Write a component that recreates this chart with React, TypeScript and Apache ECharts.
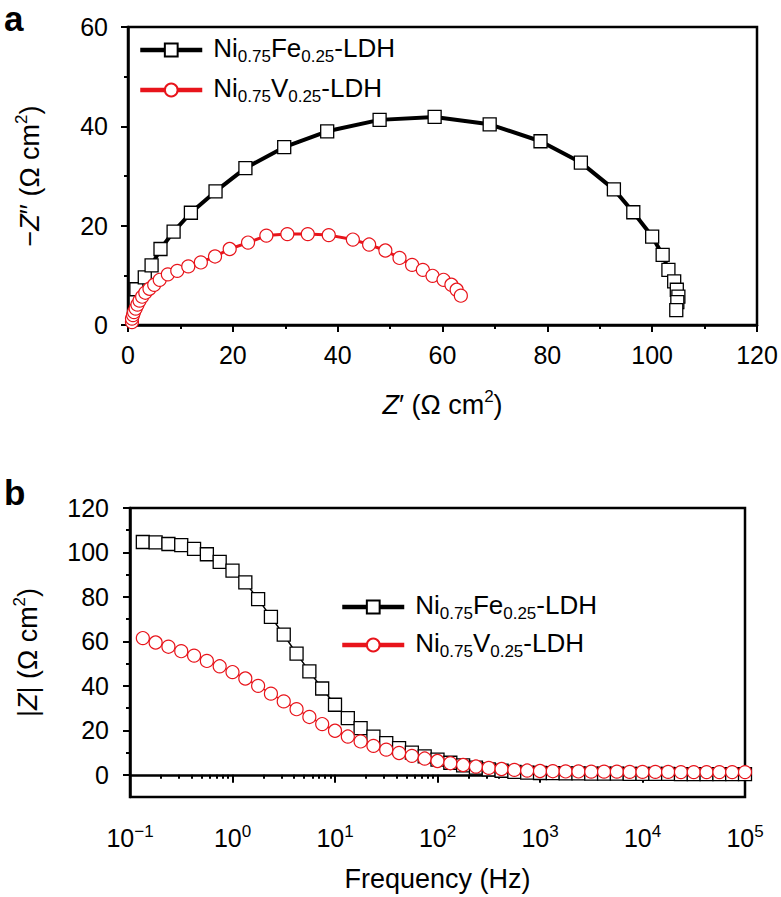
import React, { useEffect, useRef } from 'react';
import * as echarts from 'echarts';

// ---------- data ----------
// Nyquist plot (Z', -Z'') in Ω cm²
const nyquistFe: number[][] = [
  [1.6, 7.2], [3.2, 9.6], [4.5, 12.0], [6.2, 15.3], [8.7, 18.8], [12.0, 22.6],
  [16.7, 26.9], [22.4, 31.6], [29.8, 35.8], [38.0, 39.0], [48.0, 41.3], [58.5, 41.9],
  [69.0, 40.4], [78.7, 37.0], [86.4, 32.7], [92.7, 27.3], [96.4, 22.7], [100.0, 17.8],
  [102.0, 14.1], [103.1, 11.1], [104.2, 8.8], [104.7, 7.1], [105.0, 5.7], [104.8, 4.6],
  [104.6, 3.0],
];
const nyquistV: number[][] = [
  [0.76, 0.6], [0.76, 1.3], [0.96, 2.0], [1.15, 2.6], [1.46, 3.3], [1.8, 4.1],
  [2.2, 4.9], [2.7, 5.7], [3.3, 6.5], [4.1, 7.3], [5.0, 8.1], [6.05, 9.1],
  [7.6, 10.2], [9.4, 10.9], [11.5, 11.8], [13.9, 12.6], [16.6, 13.8], [19.4, 15.3],
  [22.9, 16.6], [26.4, 18.0], [30.4, 18.3], [34.3, 18.3], [38.3, 18.1], [42.9, 17.2],
  [46.0, 16.2], [49.1, 15.0], [51.8, 13.5], [54.2, 12.1], [56.25, 11.1], [58.1, 9.9],
  [60.2, 9.1], [61.7, 8.1], [62.7, 7.1], [63.5, 5.9],
];
// Bode plot
const freqHz: number[] = [
  0.1334, 0.1778, 0.2371, 0.3162, 0.4217, 0.5623, 0.7499,
  1, 1.334, 1.778, 2.371, 3.162, 4.217, 5.623, 7.499,
  10, 13.34, 17.78, 23.71, 31.62, 42.17, 56.23, 74.99,
  100, 133.4, 177.8, 237.1, 316.2, 421.7, 562.3, 749.9,
  1000, 1334, 1778, 2371, 3162, 4217, 5623, 7499,
  10000, 13340, 17780, 23710, 31620, 42170, 56230, 74990,
  100000,
];
const bodeFe: number[] = [
  104.7, 104.5, 103.8, 103.3, 101.6, 99.2, 95.8,
  91.8, 86.5, 79, 71, 63, 54.5, 46.5, 38.8,
  31.5, 25.5, 21, 17.2, 14.2, 12, 10, 8.3,
  6.8, 5.4, 4.2, 3.2, 2.4, 1.8, 1.3, 1.0,
  0.8, 0.7, 0.6, 0.6, 0.5, 0.5, 0.5, 0.4,
  0.4, 0.4, 0.4, 0.3, 0.3, 0.3, 0.3, 0.3,
  0.3,
];
const bodeV: number[] = [
  61.5, 59.5, 57.6, 55.6, 53.6, 51.2, 48.8,
  46.2, 43.3, 40, 36.5, 33, 29.5, 26, 22.8,
  19.8, 17.2, 15, 13, 11.3, 9.8, 8.5, 7.3,
  6.2, 5.2, 4.4, 3.7, 3.1, 2.6, 2.2, 1.9,
  1.7, 1.6, 1.5, 1.5, 1.4, 1.4, 1.4, 1.3,
  1.3, 1.3, 1.3, 1.2, 1.2, 1.2, 1.2, 1.2,
  1.2,
];
const bodeYLabels: number[] = [0, 20, 40, 60, 80, 100, 120];
const bodeYMinor: number[] = [10, 30, 50, 70, 90, 110];
const bodeXMinor: number[] = [
  0.2, 0.3, 0.4, 0.5, 0.6, 0.7, 0.8, 0.9,
  2, 3, 4, 5, 6, 7, 8, 9,
  20, 30, 40, 50, 60, 70, 80, 90,
  200, 300, 400, 500, 600, 700, 800, 900,
  2000, 3000, 4000, 5000, 6000, 7000, 8000, 9000,
  20000, 30000, 40000, 50000, 60000, 70000, 80000, 90000,
];
const nameFe = 'Ni0.75Fe0.25-LDH';
const nameV = 'Ni0.75V0.25-LDH';

const FONT = "'Liberation Sans', Arial, Helvetica, sans-serif";
const RED = '#e8141b';

const axisLineStyle = { lineStyle: { color: '#000', width: 2.5 } };
const tickStyle = { lineStyle: { color: '#000', width: 2 } };
const labelStyle = { fontSize: 25, color: '#000', fontFamily: FONT };

const nameRich = {
  n: { fontSize: 27, color: '#000', fontFamily: FONT, lineHeight: 34 },
  i: { fontSize: 27, color: '#000', fontFamily: FONT, fontStyle: 'italic', lineHeight: 34 },
  s: { fontSize: 17, color: '#000', fontFamily: FONT, verticalAlign: 'top', lineHeight: 15 },
};
const legendRich = {
  b: { fontSize: 26, color: '#000', fontFamily: FONT, lineHeight: 30, verticalAlign: 'top' },
  s: { fontSize: 17, color: '#000', fontFamily: FONT, verticalAlign: 'bottom', lineHeight: 1 },
};
const legendFormatter = (name: string) =>
  name === nameFe
    ? '{b|Ni}{s|0.75}{b|Fe}{s|0.25}{b|-LDH}'
    : '{b|Ni}{s|0.75}{b|V}{s|0.25}{b|-LDH}';

export default function App() {
  const ref = useRef<HTMLDivElement>(null);
  useEffect(() => {
    document.body.style.margin = '0';
    if (!ref.current) return;
    const chart = echarts.init(ref.current, null, { renderer: 'svg', width: 781, height: 897 });
    const legendCommon = {
      orient: 'vertical',
      padding: 0,
      itemWidth: 62,
      itemHeight: 16,
      lineStyle: { width: 4.5 },
      formatter: legendFormatter,
      textStyle: { rich: legendRich, padding: [0, 0, 0, 6] },
      data: [nameFe, nameV],
      selectedMode: false,
    };
    const option: any = {
      animation: false,
      backgroundColor: '#fff',
      grid: [
        { left: 128, top: 27, width: 629, height: 298, show: true, borderColor: '#000', borderWidth: 2.5, backgroundColor: 'transparent' },
        { left: 130, top: 508, width: 615, height: 289, show: true, borderColor: '#000', borderWidth: 2.5, backgroundColor: 'transparent' },
      ],
      legend: [
        { ...legendCommon, left: 138, top: 35, itemGap: 10 },
        { ...legendCommon, left: 340, top: 592, itemGap: 8 },
      ],
      graphic: [
        { type: 'text', left: 4, top: 1, style: { text: 'a', fontSize: 35, fontWeight: 'bold', fontFamily: FONT, fill: '#000' } },
        { type: 'text', left: 4, top: 475, style: { text: 'b', fontSize: 35, fontWeight: 'bold', fontFamily: FONT, fill: '#000' } },
      ],
      xAxis: [
        {
          gridIndex: 0, type: 'value', min: 0, max: 120, interval: 20,
          axisLine: axisLineStyle,
          axisTick: { length: 7, ...tickStyle },
          minorTick: { show: true, splitNumber: 2, length: 4, ...tickStyle },
          splitLine: { show: false },
          axisLabel: { ...labelStyle, margin: 17 },
          name: '{i|Z}{n|′ (Ω cm}{s|2}{n|)}',
          nameLocation: 'middle', nameGap: 63,
          nameTextStyle: { rich: nameRich },
        },
        {
          gridIndex: 1, type: 'log', logBase: 10, min: 0.1, max: 100000,
          axisLine: axisLineStyle,
          axisTick: { length: 8, ...tickStyle },
          splitLine: { show: false },
          axisLabel: {
            margin: 26,
            formatter: (v: number) => {
              const e = Math.round(Math.log10(v));
              return '{b|10}{p|' + (e < 0 ? '−' + -e : String(e)) + '}';
            },
            rich: {
              b: { fontSize: 25, color: '#000', fontFamily: FONT, lineHeight: 30 },
              p: { fontSize: 17, color: '#000', fontFamily: FONT, verticalAlign: 'top', lineHeight: 14 },
            },
          },
          name: 'Frequency (Hz)',
          nameLocation: 'middle', nameGap: 68,
          nameTextStyle: { fontSize: 27, color: '#000', fontFamily: FONT },
        },
        {
          gridIndex: 1, type: 'log', logBase: 10, min: 0.1, max: 100000, position: 'bottom',
          axisLine: { show: false },
          axisLabel: { show: false },
          axisTick: { length: 4, customValues: bodeXMinor, ...tickStyle },
          splitLine: { show: false },
        },
      ],
      yAxis: [
        {
          gridIndex: 0, type: 'value', min: 0, max: 60, interval: 20,
          axisLine: axisLineStyle,
          axisTick: { length: 7, ...tickStyle },
          minorTick: { show: true, splitNumber: 2, length: 4, ...tickStyle },
          splitLine: { show: false },
          axisLabel: { ...labelStyle, margin: 20 },
          name: '{n|−}{i|Z}{n|′′ (Ω cm}{s|2}{n|)}',
          nameLocation: 'middle', nameGap: 81, nameRotate: 90,
          nameTextStyle: { rich: nameRich },
        },
        {
          gridIndex: 1, type: 'value', min: -10, max: 120,
          axisLine: axisLineStyle,
          axisTick: { length: 7, customValues: bodeYLabels, ...tickStyle },
          splitLine: { show: false },
          axisLabel: { ...labelStyle, margin: 21, customValues: bodeYLabels },
          name: '{n||}{i|Z}{n|| (Ω cm}{s|2}{n|)}',
          nameLocation: 'middle', nameGap: 85, nameRotate: 90,
          nameTextStyle: { rich: nameRich },
        },
        {
          gridIndex: 1, type: 'value', min: -10, max: 120, position: 'left',
          axisLine: { show: false },
          axisLabel: { show: false },
          axisTick: { length: 4, customValues: bodeYMinor, ...tickStyle },
          splitLine: { show: false },
        },
      ],
      series: [
        {
          name: nameFe, type: 'line', xAxisIndex: 0, yAxisIndex: 0,
          data: nyquistFe, symbol: 'rect', symbolSize: 13,
          itemStyle: { color: '#fff', borderColor: '#000', borderWidth: 1.3 },
          lineStyle: { color: '#000', width: 4 },
        },
        {
          name: nameV, type: 'line', xAxisIndex: 0, yAxisIndex: 0,
          data: nyquistV, symbol: 'circle', symbolSize: 13,
          itemStyle: { color: '#fff', borderColor: RED, borderWidth: 1.2 },
          lineStyle: { color: RED, width: 3 },
        },
        {
          name: nameFe, type: 'line', xAxisIndex: 1, yAxisIndex: 1,
          data: freqHz.map((f, i) => [f, bodeFe[i]]), symbol: 'rect', symbolSize: 13,
          itemStyle: { color: '#fff', borderColor: '#000', borderWidth: 1.3 },
          lineStyle: { color: '#000', width: 1.5 },
        },
        {
          name: nameV, type: 'line', xAxisIndex: 1, yAxisIndex: 1,
          data: freqHz.map((f, i) => [f, bodeV[i]]), symbol: 'circle', symbolSize: 13,
          itemStyle: { color: '#fff', borderColor: RED, borderWidth: 1.2 },
          lineStyle: { color: RED, width: 1.5 },
        },
      ],
    };
    chart.setOption(option);
    return () => chart.dispose();
  }, []);
  return <div ref={ref} style={{ width: 781, height: 897 }} />;
}
